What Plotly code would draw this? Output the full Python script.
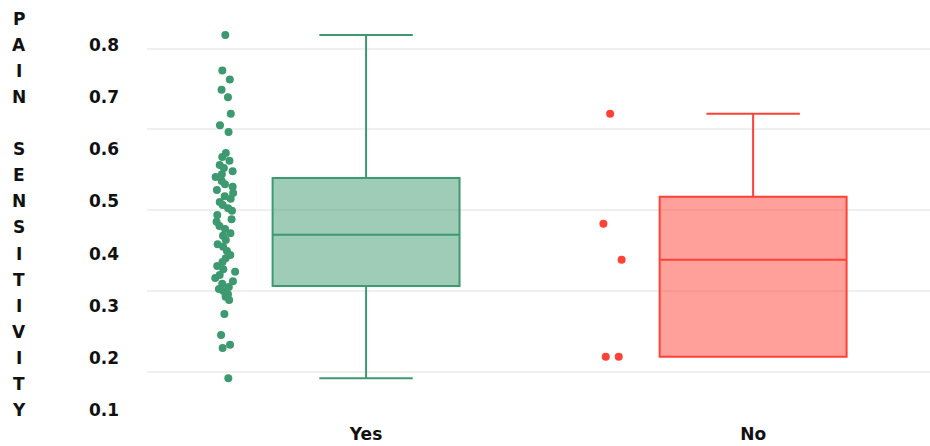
import plotly.graph_objects as go

# ---------------- data ----------------
categories = ["Yes", "No"]

yes_points = [0.819, 0.751, 0.734, 0.714, 0.700, 0.668, 0.646, 0.633,
              0.593, 0.585, 0.578, 0.570, 0.564, 0.558, 0.552, 0.547,
              0.539, 0.533, 0.528, 0.522, 0.516, 0.510, 0.505, 0.499,
              0.493, 0.487, 0.482, 0.474, 0.466, 0.461, 0.453, 0.447,
              0.439, 0.434, 0.426, 0.418, 0.413, 0.405, 0.397, 0.391,
              0.384, 0.376, 0.370, 0.365, 0.359, 0.353, 0.347, 0.342,
              0.336, 0.332, 0.328, 0.322, 0.317, 0.311, 0.284, 0.244,
              0.225, 0.219, 0.161]
no_points = [0.668, 0.457, 0.388, 0.202, 0.202]

# box statistics: [Yes, No]
lower_fence = [0.161, 0.202]
q1 = [0.338, 0.202]
median = [0.436, 0.388]
q3 = [0.545, 0.509]
upper_fence = [0.819, 0.668]

y_tick_values = [0.1, 0.2, 0.3, 0.4, 0.5, 0.6, 0.7, 0.8]
grid_values = [0.7923, 0.6389, 0.4835, 0.3282, 0.1728]
axis_title = "PAIN SENSITIVITY"

# ---------------- style ----------------
line_colors = ["#3D9970", "#FF4136"]
fill_colors = ["rgba(61,153,112,0.5)", "rgba(255,65,54,0.5)"]
W, H = 930, 446
M_L, M_R, M_T, M_B = 147, 0, 10, 26
PLOT_H = H - M_T - M_B
BOX_W = 0.483
FONT = "DejaVu Sans, Verdana, Arial"

fig = go.Figure()
point_sets = [yes_points, no_points]
for i, cat in enumerate(categories):
    # sample points (their own box hidden)
    fig.add_trace(go.Box(
        x=[cat] * len(point_sets[i]), y=point_sets[i],
        boxpoints="all", pointpos=-1.5, jitter=0.12,
        width=BOX_W, line=dict(width=0, color="rgba(0,0,0,0)"),
        fillcolor="rgba(0,0,0,0)",
        marker=dict(color=line_colors[i], size=8),
        showlegend=False, hoverinfo="y",
    ))
    # box drawn from the statistics
    fig.add_trace(go.Box(
        x=[cat], q1=[q1[i]], median=[median[i]], q3=[q3[i]],
        lowerfence=[lower_fence[i]], upperfence=[upper_fence[i]],
        width=BOX_W, boxpoints=False,
        line=dict(color=line_colors[i], width=2),
        fillcolor=fill_colors[i],
        showlegend=False,
    ))

# vertical axis title, one letter per line
step = 26.07
for i, ch in enumerate(axis_title):
    if ch == " ":
        continue
    py = 45 + (i - 1) * step
    fig.add_annotation(
        x=(19 - M_L) / (W - M_L - M_R), xref="paper", xanchor="center",
        y=1 - (py - M_T) / PLOT_H, yref="paper", yanchor="middle",
        text=ch, showarrow=False,
        font=dict(family=FONT, size=17, color="#111", weight="bold"),
    )

y_top = 0.8 + (45 - M_T) / 521.4
y_bot = 0.8 - (H - M_B - 45) / 521.4

fig.update_layout(
    width=W, height=H,
    margin=dict(l=M_L, r=M_R, t=M_T, b=M_B),
    paper_bgcolor="white", plot_bgcolor="white",
    boxmode="overlay",
    xaxis=dict(
        type="category", categoryorder="array", categoryarray=categories,
        range=[-0.566, 1.457], showgrid=False, zeroline=False,
        showline=False, ticks="", ticklabelstandoff=2,
        tickfont=dict(family=FONT, size=17, color="#111", weight="bold"),
    ),
    yaxis=dict(
        range=[y_bot, y_top], tickvals=y_tick_values,
        ticktext=[f"{v:.1f}" for v in y_tick_values],
        showgrid=False, zeroline=False, showline=False, ticks="",
        ticklabelstandoff=27,
        tickfont=dict(family=FONT, size=17, color="#111", weight="bold"),
        minor=dict(tickvals=grid_values, showgrid=True,
                   gridcolor="#efefef", gridwidth=2, ticks=""),
    ),
)

fig.write_html("out.html")
